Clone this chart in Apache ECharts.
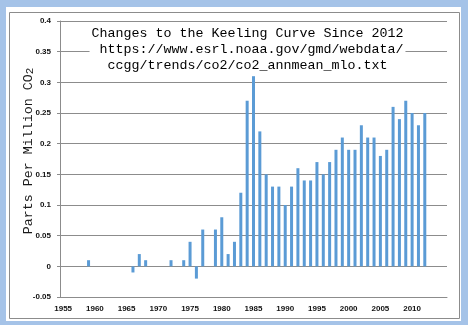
<!DOCTYPE html>
<html>
<head>
<meta charset="utf-8">
<script src="https://cdn.jsdelivr.net/npm/echarts@6/dist/echarts.min.js"></script>
<style>
  html, body { margin: 0; padding: 0; background: #a5c3e8; }
  #chart { width: 468px; height: 325px; }
</style>
</head>
<body>
<div id="chart"></div>
<script>
// Year categories on the x axis (1955 .. 2015)
const years = [];
for (let y = 1955; y <= 2015; y++) years.push(String(y));

// Year-over-year change in the annual CO2 growth, ppm (null = no value)
const changes = [
  null, null, null, null, 0.01, 0, 0, 0, 0, 0,          // 1955-1964
  0, -0.01, 0.02, 0.01, 0, 0, 0, 0.01, 0, 0.01,         // 1965-1974
  0.04, -0.02, 0.06, 0, 0.06, 0.08, 0.02, 0.04, 0.12, 0.27, // 1975-1984
  0.31, 0.22, 0.15, 0.13, 0.13, 0.10, 0.13, 0.16, 0.14, 0.14, // 1985-1994
  0.17, 0.15, 0.17, 0.19, 0.21, 0.19, 0.19, 0.23, 0.21, 0.21, // 1995-2004
  0.18, 0.19, 0.26, 0.24, 0.27, 0.25, 0.23, 0.25,            // 2005-2012
  null, null, null                                           // 2013-2015
];

// Labelled years along the bottom axis
const xTickLabels = ['1955', '1960', '1965', '1970', '1975', '1980', '1985', '1990', '1995', '2000', '2005', '2010'];
// Value axis range and tick labels
const yMin = -0.05, yMax = 0.4, yStep = 0.05;
const yTickLabels = ['-0.05', '0', '0.05', '0.1', '0.15', '0.2', '0.25', '0.3', '0.35', '0.4'];

const titleLines = [
  'Changes to the Keeling Curve Since 2012',
  ' https://www.esrl.noaa.gov/gmd/webdata/',
  'ccgg/trends/co2/co2_annmean_mlo.txt'
];

const chart = echarts.init(document.getElementById('chart'), null, { renderer: 'canvas' });

chart.setOption({
  backgroundColor: '#a5c3e8',
  animation: false,
  graphic: [
    {
      type: 'rect', z: -100, silent: true,
      shape: { x: 6, y: 7, width: 455, height: 314 },
      style: { fill: '#ffffff' }
    },
    {
      type: 'rect', z: -99, silent: true,
      shape: { x: 9.5, y: 12.5, width: 450, height: 306 },
      style: { fill: 'none', stroke: '#8c8c8c', lineWidth: 1 }
    },
    {
      // chart title, centred over the plot, masking the grid lines behind it
      type: 'text', z: 10, silent: true,
      x: 247.5, y: 23.3,
      style: {
        text: titleLines.join('\n'),
        align: 'center',
        verticalAlign: 'top',
        font: 'normal 13.33px "Liberation Mono"',
        lineHeight: 16,
        fill: '#000000',
        backgroundColor: '#ffffff',
        padding: [2, 2, 2, 2]
      }
    },
    {
      type: 'text', z: 10, silent: true,
      x: 28, y: 151, rotation: Math.PI / 2,
      style: {
        text: '{a|Parts Per Million CO}{s|2}',
        align: 'center',
        verticalAlign: 'middle',
        rich: {
          a: { fontFamily: 'Liberation Mono', fontSize: 13.33, lineHeight: 16, fill: '#1a1a1a' },
          s: { fontFamily: 'Liberation Mono', fontSize: 11, lineHeight: 10, verticalAlign: 'bottom', fill: '#1a1a1a' }
        }
      }
    }
  ],
  grid: { left: 60, right: 21, top: 21, bottom: 28, containLabel: false },
  xAxis: {
    type: 'category',
    data: years,
    boundaryGap: true,
    axisLine: { onZero: false, lineStyle: { color: '#8c8c8c', width: 1 } },
    axisTick: { show: false },
    axisLabel: {
      interval: (idx, val) => xTickLabels.includes(val),
      fontFamily: 'Liberation Sans',
      fontWeight: 'bold',
      fontSize: 8,
      color: '#111111',
      margin: 8
    },
    splitLine: { show: false }
  },
  yAxis: {
    type: 'value',
    min: yMin,
    max: yMax,
    interval: yStep,
    axisLine: { show: true, lineStyle: { color: '#8c8c8c', width: 1 } },
    axisTick: { show: true, inside: false, length: 3, lineStyle: { color: '#8c8c8c' } },
    axisLabel: {
      formatter: v => yTickLabels[Math.round((v - yMin) / yStep)],
      fontFamily: 'Liberation Sans',
      fontWeight: 'bold',
      fontSize: 8,
      color: '#111111',
      margin: 9
    },
    splitLine: { show: true, lineStyle: { color: '#8c8c8c', width: 1 } }
  },
  series: [{
    type: 'bar',
    data: changes,
    barWidth: 3,
    itemStyle: { color: '#5b9bd5' }
  }]
});
</script>
</body>
</html>
